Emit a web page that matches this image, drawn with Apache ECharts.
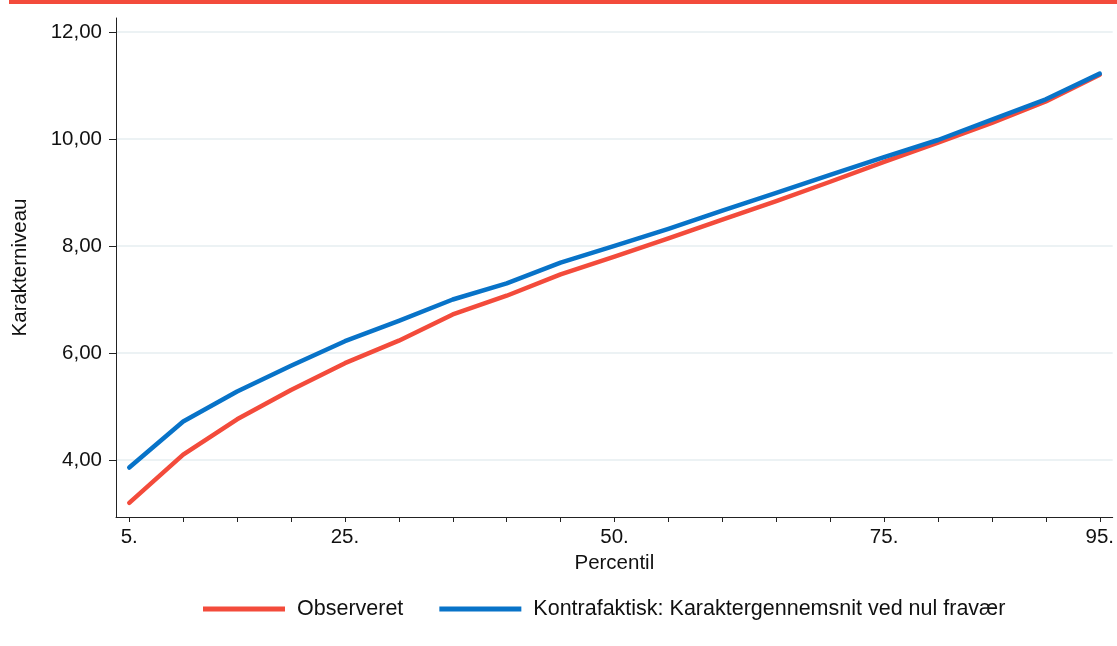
<!DOCTYPE html>
<html>
<head>
<meta charset="utf-8">
<script src="https://cdn.jsdelivr.net/npm/echarts@6/dist/echarts.min.js"></script>
<style>
html,body{margin:0;padding:0;background:#fff;}
#chart{width:1117px;height:646px;}
</style>
</head>
<body>
<div id="chart"></div>
<script>
const percentiles = [5,10,15,20,25,30,35,40,45,50,55,60,65,70,75,80,85,90,95];
const observeret = [3.20,4.10,4.76,5.31,5.81,6.23,6.72,7.07,7.47,7.80,8.14,8.49,8.84,9.20,9.57,9.93,10.30,10.70,11.20];
const kontrafaktisk = [3.86,4.72,5.28,5.76,6.22,6.60,7.00,7.30,7.69,8.00,8.32,8.66,8.99,9.33,9.66,9.98,10.36,10.74,11.22];
const xTickValues = [5,10,15,20,25,30,35,40,45,50,55,60,65,70,75,80,85,90,95];
const xLabelValues = [5,25,50,75,95];
const yTickValues = [4,6,8,10,12];
const seriesNames = ['Observeret','Kontrafaktisk: Karaktergennemsnit ved nul fravær'];

const RED = '#F34B3B', BLUE = '#0873C8';
const FONT = 'Liberation Sans, Arial, sans-serif';

const chart = echarts.init(document.getElementById('chart'), null, {renderer:'canvas'});
chart.setOption({
  animation:false,
  backgroundColor:'#fff',
  graphic:[{type:'rect', shape:{x:9,y:0,width:1108,height:4}, style:{fill:RED}, silent:true}],
  grid:{left:116,right:4,top:18,bottom:129,containLabel:false},
  legend:{
    left:203, top:598, padding:0, icon:'rect', itemWidth:82, itemHeight:5, itemGap:36,
    textStyle:{fontFamily:FONT,fontSize:21.5,color:'#111',padding:[0,0,0,7]},
    data:seriesNames
  },
  xAxis:{
    type:'value', min:3.77, max:96.2,
    name:'Percentil', nameLocation:'middle', nameGap:31,
    nameTextStyle:{fontFamily:FONT,fontSize:20.5,color:'#111'},
    axisLine:{show:true,onZero:false,lineStyle:{color:'#222',width:1}},
    axisTick:{show:true,length:5,customValues:xTickValues,lineStyle:{color:'#222'}},
    axisLabel:{show:true,customValues:xLabelValues,margin:10,fontFamily:FONT,fontSize:20.5,color:'#111',formatter:v=>v+'.'},
    splitLine:{show:false}
  },
  yAxis:{
    type:'value', min:2.935, max:12.26,
    name:'Karakterniveau', nameLocation:'middle', nameGap:85, nameRotate:90,
    nameTextStyle:{fontFamily:FONT,fontSize:20.5,color:'#111'},
    axisLine:{show:true,onZero:false,lineStyle:{color:'#222',width:1}},
    axisTick:{show:true,length:7,customValues:yTickValues,lineStyle:{color:'#222'}},
    axisLabel:{show:true,customValues:yTickValues,margin:14,fontFamily:FONT,fontSize:20.5,color:'#111',
      formatter:v=>v.toFixed(2).replace('.',',')},
    splitLine:{show:true,lineStyle:{color:'#E6EEF1',width:1.5}}
  },
  series:[
    {name:seriesNames[0], type:'line', symbol:'none', color:RED,
     lineStyle:{color:RED,width:4.5,cap:'round',join:'round'},
     data:percentiles.map((p,i)=>[p,observeret[i]])},
    {name:seriesNames[1], type:'line', symbol:'none', color:BLUE,
     lineStyle:{color:BLUE,width:4.5,cap:'round',join:'round'},
     data:percentiles.map((p,i)=>[p,kontrafaktisk[i]])}
  ]
});
</script>
</body>
</html>
